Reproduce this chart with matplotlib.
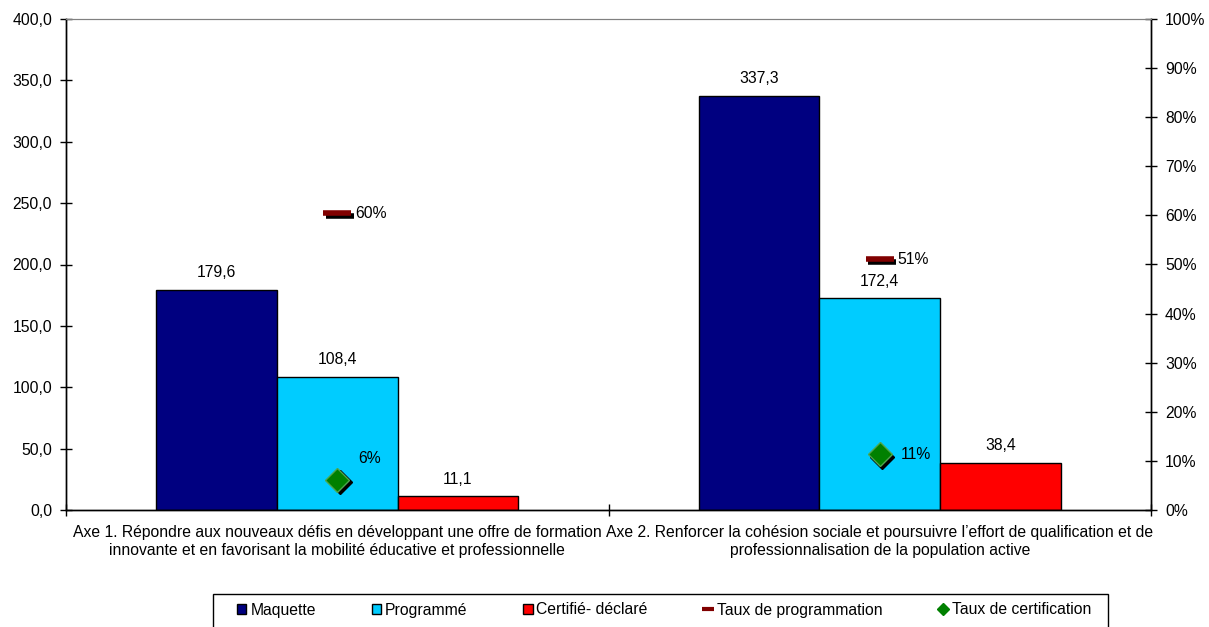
import matplotlib
matplotlib.use("Agg")
import matplotlib.pyplot as plt
from matplotlib.patches import Patch, Rectangle
from matplotlib.lines import Line2D
from matplotlib.ticker import FuncFormatter, MultipleLocator
from matplotlib.transforms import offset_copy

plt.rcParams['font.family'] = ['Liberation Sans', 'DejaVu Sans']
FS = 11.3
plt.rcParams['font.size'] = FS

categories = [
    "Axe 1. Répondre aux nouveaux défis en développant une offre de formation\n"
    "innovante et en favorisant la mobilité éducative et professionnelle",
    "Axe 2. Renforcer la cohésion sociale et poursuivre l\u2019effort de qualification et de\n"
    "professionnalisation de la population active",
]
series_names = ["Maquette", "Programmé", "Certifié- déclaré"]
maquette = [179.6, 337.3]
programme = [108.4, 172.4]
certifie = [11.1, 38.4]
taux_programmation = [0.604, 0.511]
taux_certification = [0.062, 0.114]

bar_colors = ["#000080", "#00CCFF", "#FF0000"]
prog_color = "#800000"
cert_color = "#008000"

W, H = 1209, 627
fig = plt.figure(figsize=(W / 100, H / 100), dpi=100)
ax = fig.add_axes([66 / W, 1 - 510 / H, (1151 - 66) / W, (510 - 19) / H])
ax2 = ax.twinx()

w = 1 / 4.5
xs = list(range(len(categories)))
for j, (vals, col) in enumerate(zip([maquette, programme, certifie], bar_colors)):
    pos = [x + (j - 1) * w for x in xs]
    ax.bar(pos, vals, width=w, color=col, edgecolor="black", linewidth=1, zorder=2)
    for p, v in zip(pos, vals):
        ax.annotate(f"{v:.1f}".replace(".", ","), (p, v), xytext=(0, 12.5),
                    textcoords="offset points", ha="center", va="center", fontsize=FS)

ax.set_xlim(-0.5, len(categories) - 0.5)
ax.set_ylim(0, 400)
ax.yaxis.set_major_locator(MultipleLocator(50))
ax.yaxis.set_major_formatter(FuncFormatter(lambda v, p: f"{v:.1f}".replace(".", ",")))
ax.set_xticks(xs)
ax.set_xticklabels(categories, fontsize=FS, linespacing=1.2)
ax.set_xticks([x - 0.5 for x in xs] + [xs[-1] + 0.5], minor=True)
ax.tick_params(axis="x", which="major", length=0, pad=11)
ax.tick_params(axis="x", which="minor", direction="inout", length=8, width=1)
ax.tick_params(axis="y", direction="inout", length=8, width=1, labelsize=FS, pad=6)

ax2.set_ylim(0, 1)
ax2.yaxis.set_major_locator(MultipleLocator(0.1))
ax2.yaxis.set_major_formatter(FuncFormatter(lambda v, p: f"{v * 100:.0f}%"))
ax2.tick_params(axis="y", direction="inout", length=8, width=1, labelsize=FS, pad=6)

for a in (ax, ax2):
    a.spines["top"].set_color("#808080")
    a.spines["left"].set_linewidth(1)
    a.spines["right"].set_linewidth(1)
    a.spines["bottom"].set_linewidth(1)

shadow = offset_copy(ax2.transData, fig=fig, x=2.5, y=-2.5, units="dots")

# Taux de programmation: dash markers with drop shadow
ax2.plot(xs, taux_programmation, linestyle="none", marker="_", ms=20, mew=4,
         color="black", transform=shadow, zorder=3)
ax2.plot(xs, taux_programmation, linestyle="none", marker="_", ms=20, mew=4,
         color=prog_color, zorder=4)
for x, v in zip(xs, taux_programmation):
    ax2.annotate(f"{v * 100:.0f}%", (x, v), xytext=(13, 0), textcoords="offset points",
                 ha="left", va="center", fontsize=FS)

# Taux de certification: diamond markers with drop shadow
ax2.plot(xs, taux_certification, linestyle="none", marker="D", ms=12.5,
         color="black", mec="black", transform=shadow, zorder=3)
ax2.plot(xs, taux_certification, linestyle="none", marker="D", ms=12.5,
         color=cert_color, mec="#4da64d", mew=1, zorder=4)
cert_offsets = [(15, 15), (15, 0)]
for x, v, off in zip(xs, taux_certification, cert_offsets):
    ax2.annotate(f"{v * 100:.0f}%", (x, v), xytext=off, textcoords="offset points",
                 ha="left", va="center", fontsize=FS)

# Legend: entries spread across a fixed-width box
handles = [Patch(facecolor=c, edgecolor="black", linewidth=1) for c in bar_colors]
handles += [
    Line2D([], [], linestyle="none", marker="_", ms=9, mew=3, color=prog_color),
    Line2D([], [], linestyle="none", marker="D", ms=6, color=cert_color, mec=cert_color),
]
labels = series_names + ["Taux de programmation", "Taux de certification"]
fig.legend(handles, labels, loc="center", mode="expand",
           bbox_to_anchor=(237 / W, (H - 619) / H, (1091 - 237) / W, 18 / H),
           ncol=5, fontsize=FS, frameon=False, borderpad=0, borderaxespad=0,
           handlelength=0.6, handleheight=0.6, handletextpad=0.25)
fig.add_artist(Rectangle((213 / W, -2 / H), (1108 - 213) / W, (H - 594 + 2) / H,
                         transform=fig.transFigure, facecolor="none",
                         edgecolor="black", linewidth=1))

fig.savefig("out.png", dpi=100)
